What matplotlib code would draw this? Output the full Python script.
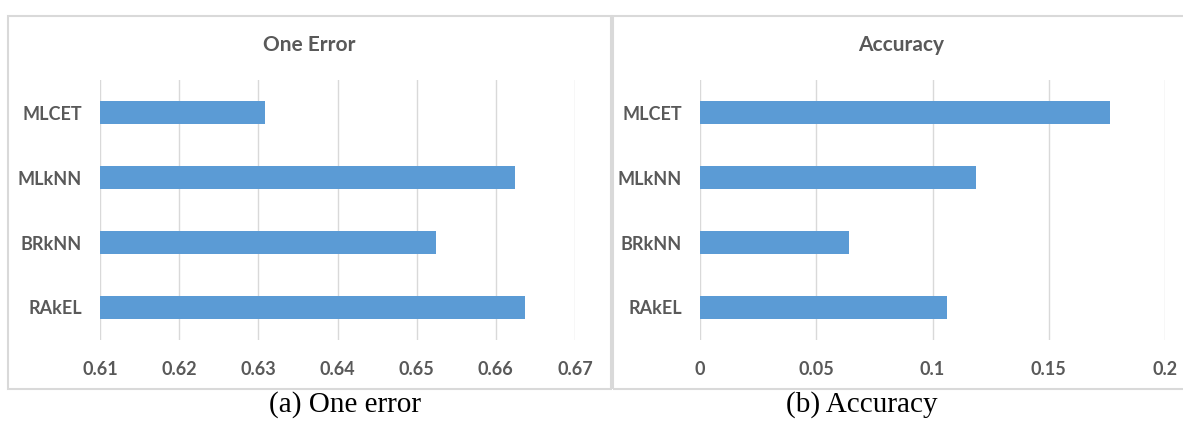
import matplotlib.pyplot as plt
from matplotlib.patches import Rectangle

# data
methods = ["MLCET", "MLkNN", "BRkNN", "RAkEL"]
one_error = [0.6308, 0.6624, 0.6524, 0.6637]
accuracy = [0.1763, 0.1187, 0.0641, 0.1064]
one_error_ticks = [0.61, 0.62, 0.63, 0.64, 0.65, 0.66, 0.67]
accuracy_ticks = [0, 0.05, 0.1, 0.15, 0.2]
accuracy_ticklabels = ["0", "0.05", "0.1", "0.15", "0.2"]

W, H = 1183, 421
bar_color = "#5B9BD5"
text_color = "#595959"
grid_color = "#D9D9D9"

plt.rcParams['font.family'] = ['Lato', 'DejaVu Sans']

fig = plt.figure(figsize=(W / 100, H / 100), dpi=100)

def px_axes(x0, x1, y0, y1):
    # pixel box -> figure fractions
    return fig.add_axes([x0 / W, 1 - y1 / H, (x1 - x0) / W, (y1 - y0) / H])

def draw_panel(ax, vals, ticks, ticklabels, lim):
    y = list(range(len(methods)))
    ax.barh(y, [v - lim[0] for v in vals], left=lim[0], height=0.355,
            color=bar_color, zorder=3)
    ax.set_xlim(lim)
    ax.set_ylim(len(methods) - 0.5, -0.5)
    ax.set_yticks(y)
    ax.set_yticklabels(methods, fontsize=13, fontweight="bold", color=text_color)
    ax.set_xticks(ticks)
    ax.set_xticklabels(ticklabels, fontsize=13, fontweight="bold", color=text_color)
    ax.tick_params(length=0)
    ax.tick_params(axis="x", pad=15)
    ax.tick_params(axis="y", pad=13)
    ax.grid(axis="x", color=grid_color, linewidth=1, zorder=0)
    for s in ax.spines.values():
        s.set_visible(False)

ax1 = px_axes(100, 575, 80, 340)
draw_panel(ax1, one_error, one_error_ticks, [str(t) for t in one_error_ticks], (0.61, 0.67))

ax2 = px_axes(700, 1165, 80, 340)
draw_panel(ax2, accuracy, accuracy_ticks, accuracy_ticklabels, (0, 0.2))

# panel frames + titles
panels = [(8, 611, "One Error"), (613, 1190, "Accuracy")]
for x0, x1, title in panels:
    fig.patches.append(Rectangle((x0 / W, 1 - 389 / H), (x1 - x0) / W, (389 - 16) / H,
                                 transform=fig.transFigure, fill=False,
                                 edgecolor=grid_color, linewidth=1.5))
    fig.text((x0 + x1) / 2 / W, 1 - 45 / H, title, ha="center", va="center",
             fontsize=15, fontweight="bold", color=text_color)

fig.text(345 / W, 1 - 405 / H, "(a) One error", ha="center", va="center",
         fontsize=21, family="Liberation Serif", color="black")
fig.text(862 / W, 1 - 405 / H, "(b) Accuracy", ha="center", va="center",
         fontsize=21, family="Liberation Serif", color="black")

fig.savefig("out.png", dpi=100, facecolor="white")
